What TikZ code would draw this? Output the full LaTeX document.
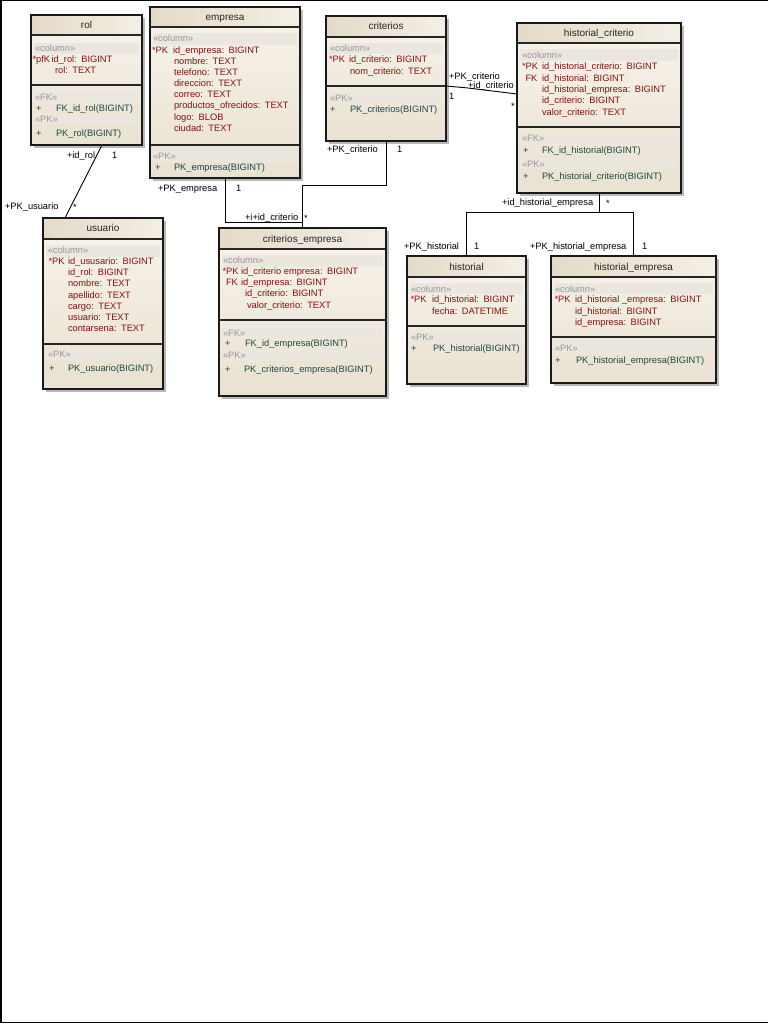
\documentclass[tikz,border=0pt]{standalone}
\usepackage{fontspec}
\setmainfont{Liberation Sans}
\usetikzlibrary{calc,shadows}
\definecolor{colred}{HTML}{870F12}
\definecolor{opteal}{HTML}{1C4A44}
\definecolor{stgrey}{HTML}{969696}
\definecolor{bodytop}{HTML}{F8F4EC}
\definecolor{bodybot}{HTML}{E9E1D1}
\definecolor{ttlL}{HTML}{E4DAC7}
\definecolor{ttlR}{HTML}{F4EFE5}
\definecolor{bandc}{HTML}{EBE7DF}
\newcommand\tsep{\hspace{4.5pt}}
% text row: name, style, x, center y, text
\newcommand\R[5]{\node[#2] (#1) at (#3,{#4+3.2}) {#5};}
% table: name, x1, y1, x2, y2, title separator y, title
\newcommand\dbtable[7]{%
  \node[tblbox, minimum width={(#4-#2)*1pt}, minimum height={(#5-#3)*1pt}, anchor=north west] (#1) at (#2,#3) {};
  \shade[left color=ttlL, right color=ttlR] (#2,#3) rectangle (#4,#6);
  \draw[sepline] (#2,#6) -- (#4,#6);
  \node[ttl] (#1-title) at ({(#2+#4)/2},{(#3+#6)/2+3.5}) {#7};
}
\newcommand\bandrow[4]{\fill[band] ({#1+3},#3) rectangle ({#2-3},#4);}
\newcommand\dbborder[1]{\draw[border] (#1.north west) rectangle (#1.south east);}
\begin{document}
\begin{tikzpicture}[x=1pt,y=-1pt,
  tblbox/.style={rectangle, inner sep=0pt, outer sep=0pt, top color=bodytop, bottom color=bodybot,
    drop shadow={shadow xshift=2.8pt, shadow yshift=-2.8pt, fill=black!50, opacity=0.55}},
  border/.style={draw=black!90, line width=1.3pt},
  sepline/.style={draw=black!85, line width=1.2pt},
  band/.style={fill=bandc},
  txt/.style={inner sep=0pt, outer sep=0pt, anchor=base west, font=\fontsize{9.3}{10}\selectfont},
  ttl/.style={txt, anchor=base, font=\fontsize{10}{11}\selectfont, text=black!85},
  stereo/.style={txt, text=stgrey},
  colt/.style={txt, text=colred},
  opt/.style={txt, text=opteal},
  lbl/.style={txt, text=black},
  conn/.style={draw=black, line width=0.9pt},
]
\useasboundingbox (0,0) rectangle (768,1024);
\fill[white] (0,0) rectangle (768,1024);
\draw[line width=1.5pt] (768,0.75) -- (0.75,0.75) -- (0.75,1022.5) -- (768,1022.5);

% ---------------- rol ----------------
\dbtable{rol}{31}{15}{142}{145}{35}{rol}
\bandrow{31}{142}{43}{54}
\bandrow{31}{142}{92}{102}
\bandrow{31}{142}{114}{124}
\draw[sepline] (31,85) -- (142,85);
\dbborder{rol}
\R{rol-s1}{stereo}{35}{48}{«column»}
\R{rol-p1}{colt}{32.5}{59}{*pfK}
\R{rol-c1}{colt}{51.5}{59}{id\_rol:\tsep BIGINT}
\R{rol-c2}{colt}{55}{70}{rol:\tsep TEXT}
\R{rol-s2}{stereo}{35}{97}{«FK»}
\R{rol-o1p}{opt}{36}{108}{+}
\R{rol-o1}{opt}{56}{108}{FK\_id\_rol(BIGINT)}
\R{rol-s3}{stereo}{35}{119}{«PK»}
\R{rol-o2p}{opt}{36}{133}{+}
\R{rol-o2}{opt}{56}{133}{PK\_rol(BIGINT)}

% ---------------- empresa ----------------
\dbtable{empresa}{150}{7}{300}{178}{27}{empresa}
\bandrow{150}{300}{33}{45}
\bandrow{150}{300}{151}{162}
\draw[sepline] (150,145) -- (300,145);
\dbborder{empresa}
\R{emp-s1}{stereo}{153}{38}{«column»}
\R{emp-p1}{colt}{152}{50}{*PK}
\R{emp-c1}{colt}{173}{50}{id\_empresa:\tsep BIGINT}
\R{emp-c2}{colt}{174}{61}{nombre:\tsep TEXT}
\R{emp-c3}{colt}{174}{72}{telefono:\tsep TEXT}
\R{emp-c4}{colt}{174}{83}{direccion:\tsep TEXT}
\R{emp-c5}{colt}{174}{94}{correo:\tsep TEXT}
\R{emp-c6}{colt}{174}{105}{productos\_ofrecidos:\tsep TEXT}
\R{emp-c7}{colt}{174}{117}{logo:\tsep BLOB}
\R{emp-c8}{colt}{174}{128}{ciudad:\tsep TEXT}
\R{emp-s2}{stereo}{153}{156}{«PK»}
\R{emp-o1p}{opt}{155}{167}{+}
\R{emp-o1}{opt}{174}{167}{PK\_empresa(BIGINT)}

% ---------------- criterios ----------------
\dbtable{criterios}{326}{16}{446}{141}{37}{criterios}
\bandrow{326}{446}{43}{54}
\bandrow{326}{446}{92}{103}
\draw[sepline] (326,86) -- (446,86);
\dbborder{criterios}
\R{cri-s1}{stereo}{330}{48}{«column»}
\R{cri-p1}{colt}{329}{59}{*PK}
\R{cri-c1}{colt}{349}{59}{id\_criterio:\tsep BIGINT}
\R{cri-c2}{colt}{350}{71}{nom\_criterio:\tsep TEXT}
\R{cri-s2}{stereo}{330}{98}{«PK»}
\R{cri-o1p}{opt}{330}{109}{+}
\R{cri-o1}{opt}{350}{109}{PK\_criterios(BIGINT)}

% ---------------- historial_criterio ----------------
\dbtable{historial_criterio}{517}{23}{681}{193}{43}{historial\_criterio}
\bandrow{517}{681}{49}{61}
\bandrow{517}{681}{133}{144}
\bandrow{517}{681}{158}{169}
\draw[sepline] (517,127) -- (681,127);
\dbborder{historial_criterio}
\R{hc-s1}{stereo}{522}{55}{«column»}
\R{hc-p1}{colt}{522}{66}{*PK}
\R{hc-c1}{colt}{542}{66}{id\_historial\_criterio:\tsep BIGINT}
\R{hc-p2}{colt}{525.5}{78}{FK}
\R{hc-c2}{colt}{542}{78}{id\_historial:\tsep BIGINT}
\R{hc-c3}{colt}{542}{89}{id\_historial\_empresa:\tsep BIGINT}
\R{hc-c4}{colt}{542}{100}{id\_criterio:\tsep BIGINT}
\R{hc-c5}{colt}{542}{112}{valor\_criterio:\tsep TEXT}
\R{hc-s2}{stereo}{522}{138}{«FK»}
\R{hc-o1p}{opt}{523}{150}{+}
\R{hc-o1}{opt}{542}{150}{FK\_id\_historial(BIGINT)}
\R{hc-s3}{stereo}{522}{164}{«PK»}
\R{hc-o2p}{opt}{523}{176}{+}
\R{hc-o2}{opt}{542}{176}{PK\_historial\_criterio(BIGINT)}

% ---------------- usuario ----------------
\dbtable{usuario}{43}{218}{163}{389}{239}{usuario}
\bandrow{43}{163}{245}{257}
\bandrow{43}{163}{349}{360}
\draw[sepline] (43,344) -- (163,344);
\dbborder{usuario}
\R{usu-s1}{stereo}{48}{250}{«column»}
\R{usu-p1}{colt}{48.5}{261}{*PK}
\R{usu-c1}{colt}{68}{261}{id\_ususario:\tsep BIGINT}
\R{usu-c2}{colt}{68}{272}{id\_rol:\tsep BIGINT}
\R{usu-c3}{colt}{68}{283}{nombre:\tsep TEXT}
\R{usu-c4}{colt}{68}{295}{apellido:\tsep TEXT}
\R{usu-c5}{colt}{68}{306}{cargo:\tsep TEXT}
\R{usu-c6}{colt}{68}{317}{usuario:\tsep TEXT}
\R{usu-c7}{colt}{68}{328}{contarsena:\tsep TEXT}
\R{usu-s2}{stereo}{48}{354}{«PK»}
\R{usu-o1p}{opt}{49}{368}{+}
\R{usu-o1}{opt}{68}{368}{PK\_usuario(BIGINT)}

% ---------------- criterios_empresa ----------------
\dbtable{criterios_empresa}{219}{228}{386}{396}{249}{criterios\_empresa}
\bandrow{219}{386}{255}{267}
\bandrow{219}{386}{328}{338}
\bandrow{219}{386}{350}{361}
\draw[sepline] (219,320) -- (386,320);
\dbborder{criterios_empresa}
\R{ce-s1}{stereo}{223}{260}{«column»}
\R{ce-p1}{colt}{222.5}{271}{*PK}
\R{ce-c1}{colt}{241}{271}{id\_criterio empresa:\tsep BIGINT}
\R{ce-p2}{colt}{226}{282}{FK}
\R{ce-c2}{colt}{241}{282}{id\_empresa:\tsep BIGINT}
\R{ce-c3}{colt}{245}{293}{id\_criterio:\tsep BIGINT}
\R{ce-c4}{colt}{247}{305}{valor\_criterio:\tsep TEXT}
\R{ce-s2}{stereo}{223}{333}{«FK»}
\R{ce-o1p}{opt}{225}{343}{+}
\R{ce-o1}{opt}{245}{343}{FK\_id\_empresa(BIGINT)}
\R{ce-s3}{stereo}{223}{355}{«PK»}
\R{ce-o2p}{opt}{225}{369}{+}
\R{ce-o2}{opt}{244}{369}{PK\_criterios\_empresa(BIGINT)}

% ---------------- historial ----------------
\dbtable{historial}{407}{256}{526}{384}{277}{historial}
\bandrow{407}{526}{283}{294}
\bandrow{407}{526}{332}{343}
\draw[sepline] (407,326) -- (526,326);
\dbborder{historial}
\R{his-s1}{stereo}{411}{289}{«column»}
\R{his-p1}{colt}{410.5}{299}{*PK}
\R{his-c1}{colt}{432}{299}{id\_historial:\tsep BIGINT}
\R{his-c2}{colt}{432}{311}{fecha:\tsep DATETIME}
\R{his-s2}{stereo}{411}{337}{«PK»}
\R{his-o1p}{opt}{411}{348}{+}
\R{his-o1}{opt}{433}{348}{PK\_historial(BIGINT)}

% ---------------- historial_empresa ----------------
\dbtable{historial_empresa}{551}{256}{716}{383}{277}{historial\_empresa}
\bandrow{551}{716}{283}{294}
\bandrow{551}{716}{343}{354}
\draw[sepline] (551,337) -- (716,337);
\dbborder{historial_empresa}
\R{he-s1}{stereo}{555}{289}{«column»}
\R{he-p1}{colt}{554.5}{299}{*PK}
\R{he-c1}{colt}{575}{299}{id\_historial \_empresa:\tsep BIGINT}
\R{he-c2}{colt}{575}{311}{id\_historial:\tsep BIGINT}
\R{he-c3}{colt}{575}{322}{id\_empresa:\tsep BIGINT}
\R{he-s2}{stereo}{555}{348}{«PK»}
\R{he-o1p}{opt}{555}{360}{+}
\R{he-o1}{opt}{576}{360}{PK\_historial\_empresa(BIGINT)}

% ---------------- connectors ----------------
\draw[conn] ($(rol.south west)+(71,0)$) -- ($(usuario.north west)+(22,0)$);
\draw[conn] (empresa.south) -- ++(0,44) -| (criterios_empresa.north);
\draw[conn] (criterios.south) -- ++(0,44) -| (criterios_empresa.north);
\draw[conn] ($(criterios.north east)+(0,70)$) -- ++(22,2) -- ($(historial_criterio.north west)+(0,71)$);
\coordinate (hj) at ($(historial_criterio.south)+(0,19)$);
\draw[conn] (historial_criterio.south) -- (hj);
\draw[conn] (hj) -| (historial.north);
\draw[conn] (hj) -| (historial_empresa.north);

% ---------------- connector labels ----------------
\R{l-idrol}{lbl}{67}{155}{+id\_rol}
\R{l-rol1}{lbl}{112}{155}{1}
\R{l-pkusu}{lbl}{5}{206}{+PK\_usuario}
\R{l-usustar}{lbl}{73}{207}{*}
\R{l-pkemp}{lbl}{158}{188}{+PK\_empresa}
\R{l-emp1}{lbl}{236}{188}{1}
\R{l-pkcri}{lbl}{327}{149}{+PK\_criterio}
\R{l-cri1}{lbl}{397}{149}{1}
\R{l-idcri}{lbl}{245}{217}{+i+id\_criterio}
\R{l-cestar}{lbl}{304}{218}{*}
\R{l-pkcri2}{lbl}{449}{76}{+PK\_criterio}
\R{l-idcri2}{lbl}{468}{85}{+id\_criterio}
\R{l-cri2one}{lbl}{449}{96}{1}
\R{l-hcstar}{lbl}{511}{106}{*}
\R{l-idhe}{lbl}{502}{202}{+id\_historial\_empresa}
\R{l-hestar}{lbl}{606}{203}{*}
\R{l-pkhis}{lbl}{404}{246}{+PK\_historial}
\R{l-his1}{lbl}{474}{246}{1}
\R{l-pkhe}{lbl}{530}{246}{+PK\_historial\_empresa}
\R{l-he1}{lbl}{642}{246}{1}
\end{tikzpicture}
\end{document}
